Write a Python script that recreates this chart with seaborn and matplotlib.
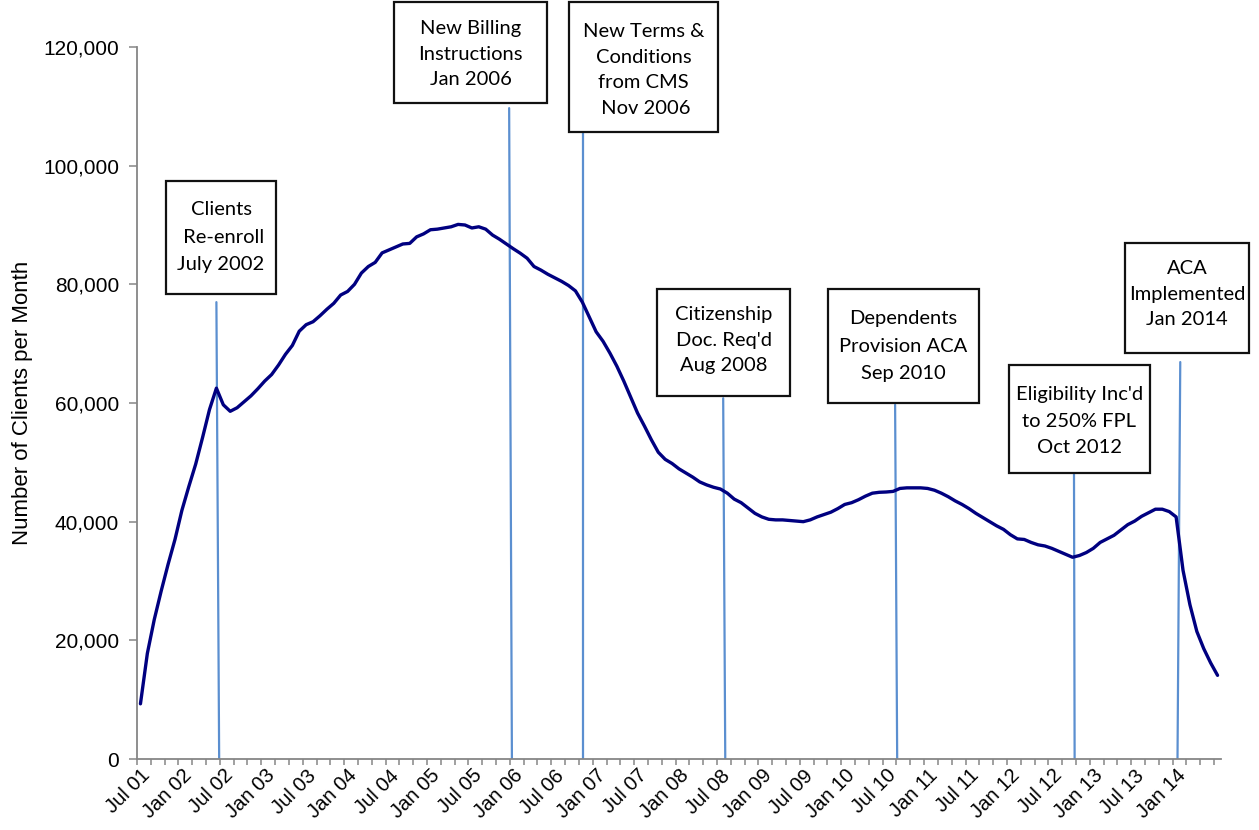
import numpy as np
import pandas as pd
import matplotlib
matplotlib.use("Agg")
import matplotlib.pyplot as plt
import seaborn as sns
from matplotlib.patches import Rectangle
from matplotlib.ticker import FixedLocator, FuncFormatter

# Monthly enrollment, Jul 2001 - Jul 2014
start_month = "2001-07-01"
clients = [
    9300, 17800, 23500, 28300, 32800, 37000, 41900, 45900, 49700, 54200,
    58900, 62500, 59700, 58600, 59200, 60200, 61200, 62400, 63700, 64800,
    66400, 68200, 69700, 72100, 73200, 73700, 74700, 75800, 76800, 78200,
    78800, 80000, 81900, 83000, 83700, 85300, 85800, 86300, 86800, 86900,
    88000, 88500, 89200, 89300, 89500, 89700, 90100, 90000, 89500, 89700,
    89300, 88300, 87600, 86800, 86000, 85250, 84400, 83000, 82400, 81700,
    81100, 80500, 79800, 78900, 77000, 74500, 72000, 70400, 68400, 66200,
    63700, 61000, 58300, 56100, 53800, 51700, 50500, 49800, 48900, 48200,
    47500, 46700, 46200, 45800, 45500, 44800, 43800, 43200, 42300, 41400,
    40800, 40400, 40300, 40300, 40200, 40100, 40000, 40300, 40800, 41200,
    41600, 42200, 42900, 43200, 43700, 44300, 44800, 44950, 45000, 45100,
    45600, 45700, 45700, 45700, 45600, 45300, 44800, 44200, 43500, 42900,
    42200, 41400, 40700, 40000, 39300, 38700, 37800, 37100, 37000, 36500,
    36100, 35900, 35500, 35000, 34500, 34000, 34300, 34800, 35500, 36500,
    37100, 37700, 38600, 39500, 40100, 40900, 41500, 42100, 42100, 41700,
    40800, 31800, 26000, 21500, 18600, 16200, 14100,
]
last_label_month = "2014-01-01"

# Program events
event_dates = ["2002-07", "2006-01", "2006-11", "2008-08", "2010-09", "2012-10", "2014-01"]
event_labels = [
    "Clients\n Re-enroll\nJuly 2002",
    "New Billing\nInstructions\nJan 2006",
    "New Terms &\nConditions\nfrom CMS\n Nov 2006",
    "Citizenship\nDoc. Req'd\nAug 2008",
    "Dependents\nProvision ACA\nSep 2010",
    "Eligibility Inc'd\nto 250% FPL\nOct 2012",
    "ACA\nImplemented\nJan 2014",
]

# Callout layout (figure pixels): box left, top, right, bottom, text centre y, line spacing
box_px = [
    (166, 181, 276, 294, 237, 1.75),
    (394, 2, 547, 103, 54, 1.6),
    (569, 2, 718, 132, 70, 1.6),
    (657, 289, 790, 396, 340, 1.6),
    (828, 289, 979, 403, 346, 1.75),
    (1009, 365, 1150, 473, 421, 1.65),
    (1125, 243, 1249, 353, 294, 1.6),
]
# connector lines: top value, and horizontal offsets (months) at top and bottom
line_tops = [77000, 109700, 105500, 60800, 59700, 52600, 66900]
line_shift = [(-1.0, -0.6), (-0.6, -0.2), (0.1, 0.1), (-0.6, -0.3),
              (-0.7, -0.4), (0.2, 0.3), (0.6, 0.2)]

W, H = 1259, 830
months = pd.date_range(start_month, periods=len(clients), freq="MS")
idx = np.arange(len(clients))
df = pd.DataFrame({"month": idx, "clients": clients})

sns.set_theme(style="white")
plt.rcParams["font.family"] = ["Liberation Sans", "DejaVu Sans"]
tick_font = ["Liberation Sans", "DejaVu Sans"]

fig = plt.figure(figsize=(W / 100, H / 100), dpi=100)
ax = fig.add_axes([137 / W, 1 - 759 / H, (1221 - 137) / W, (759 - 47) / H])

sns.lineplot(data=df, x="month", y="clients", ax=ax, color="#000080",
             linewidth=2.4, zorder=3)

ev_idx = [(pd.Period(d, "M") - pd.Period(start_month, "M")).n for d in event_dates]
for xi, top, (dt, db) in zip(ev_idx, line_tops, line_shift):
    ax.plot([xi + dt, xi + db], [top, 0], color="#5b8fd0", linewidth=1.6, zorder=2)

ax.set_xlim(-0.5, len(clients) - 0.5)
ax.set_ylim(0, 120000)

ax.yaxis.set_major_locator(FixedLocator(np.arange(0, 120001, 20000)))
ax.yaxis.set_major_formatter(FuncFormatter(lambda v, p: f"{int(v):,}"))

label_months = months[(months <= pd.Timestamp(last_label_month))][::6]
label_pos = [idx[months.get_loc(m)] for m in label_months]
ax.xaxis.set_major_locator(FixedLocator(label_pos))
ax.set_xticklabels([m.strftime("%b %y") for m in label_months])
ax.xaxis.set_minor_locator(FixedLocator(np.arange(-0.5, len(clients), 2)))

for s in ["top", "right"]:
    ax.spines[s].set_visible(False)
for s in ["left", "bottom"]:
    ax.spines[s].set_color("#868686")
    ax.spines[s].set_linewidth(1.3)

ax.tick_params(axis="y", which="major", direction="out", length=6, width=1.1,
               color="#868686", labelsize=15, pad=7, left=True, labelcolor="black")
ax.tick_params(axis="x", which="major", length=0, labelsize=14.5, pad=5, labelcolor="black")
ax.tick_params(axis="x", which="minor", direction="out", length=4, width=1.1,
               color="#868686", bottom=True)
for lab in ax.get_yticklabels():
    lab.set_fontfamily(tick_font)
for lab in ax.get_xticklabels():
    lab.set_fontfamily(tick_font)
    lab.set_rotation(45)
    lab.set_ha("right")
    lab.set_va("top")
    lab.set_rotation_mode("anchor")

ax.set_xlabel("")
ax.set_ylabel("Number of Clients per Month", fontsize=16, color="black",
              family=tick_font)
ax.yaxis.set_label_coords(-0.096, 0.5)

for (x0, y0, x1, y1, ty, ls), text in zip(box_px, event_labels):
    rect = Rectangle((x0 / W, 1 - y1 / H), (x1 - x0) / W, (y1 - y0) / H,
                     transform=fig.transFigure, facecolor="white",
                     edgecolor="#111111", linewidth=1.6, zorder=5)
    fig.patches.append(rect)
    fig.text((x0 + x1) / 2 / W, 1 - ty / H, text, ha="center", va="center",
             fontsize=14.5, family=["Lato", "DejaVu Sans"], linespacing=ls,
             color="black", zorder=6)

fig.savefig("out.png", dpi=100, facecolor="white")
